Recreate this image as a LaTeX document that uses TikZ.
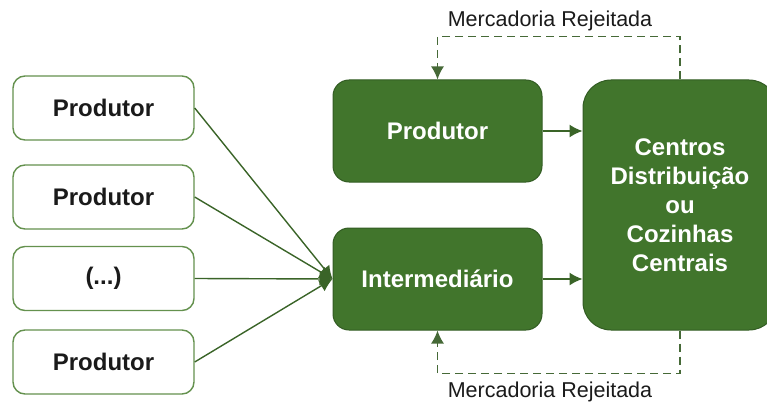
\documentclass[tikz,border=0pt]{standalone}
\usepackage{fontspec}
\setmainfont{Liberation Sans}
\usepackage{tikz}
\usetikzlibrary{arrows.meta,positioning,calc}

\definecolor{darkgreen}{RGB}{65,117,44}
\definecolor{edgegreen}{RGB}{50,92,35}
\definecolor{linegreen}{RGB}{58,100,40}
\definecolor{boxline}{RGB}{100,145,78}
\definecolor{dashgreen}{RGB}{70,105,55}
\definecolor{txt}{RGB}{26,26,26}

\tikzset{
  srcbox/.style={draw=boxline,line width=1.4pt,fill=white,rounded corners=12pt,
    minimum width=181pt,minimum height=64pt,inner sep=0pt,
    font=\bfseries\fontsize{24}{28}\selectfont,text=txt},
  stagebox/.style={draw=edgegreen,line width=1pt,fill=darkgreen,rounded corners=16pt,
    minimum width=209pt,minimum height=102pt,inner sep=0pt,
    font=\bfseries\fontsize{24}{28}\selectfont,text=white},
  feed/.style={draw=linegreen,line width=1.4pt,-{Latex[length=13pt,width=13pt]}},
  reject/.style={draw=dashgreen,line width=1.7pt,dash pattern=on 8pt off 5pt,
    -{Latex[length=13pt,width=13pt]}},
  rejlabel/.style={font=\fontsize{21.5}{24}\selectfont,text=txt,inner sep=0pt}
}

\begin{document}
\begin{tikzpicture}[x=1pt,y=-1pt]
\useasboundingbox (0,0) rectangle (767,401);
\clip (0,0) rectangle (767,401);
% left column
\node[srcbox] (src1) at (103.5,108) {Produtor};
\node[srcbox] (src2) at (103.5,197) {Produtor};
\node[srcbox] (src3) at (103.5,278.5) {(...)};
\node[srcbox] (src4) at (103.5,362) {Produtor};
% middle column
\node[stagebox] (prod) at (437.5,131) {Produtor};
\node[stagebox] (inter) at (437.5,279) {Intermedi\'ario};
% right
\node[stagebox,minimum width=194pt,minimum height=250pt,rounded corners=28pt,
  align=center] (cdc) at (680,205)
  {Centros\\[1pt]Distribui\c{c}\~ao\\[1pt]ou\\[1pt]Cozinhas\\[1pt]Centrais};
% feeds
\foreach \s in {src1,src2,src3,src4}
  \draw[feed] (\s.east) -- (inter.west);
\draw[feed] (prod.east) -- (prod.east -| cdc.west);
\draw[feed] (inter.east) -- (inter.east -| cdc.west);
% rejected goods
\draw[reject] (cdc.north) -- ++(0,-43) -| (prod.north);
\draw[reject] (cdc.south) -- ++(0,43) -| (inter.south);
\node[rejlabel] (rejtop) at (550,21) {Mercadoria Rejeitada};
\node[rejlabel] (rejbot) at (550,392) {Mercadoria Rejeitada};
\end{tikzpicture}
\end{document}
